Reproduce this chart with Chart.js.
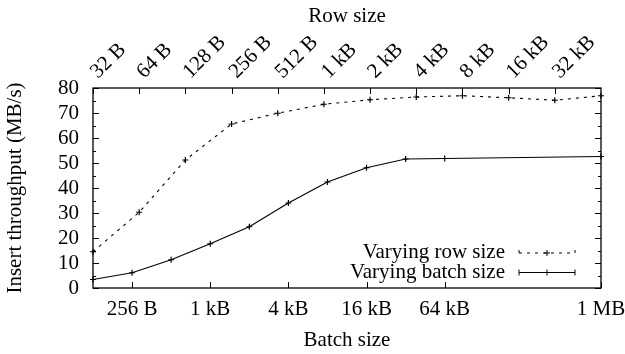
<!DOCTYPE html>
<html>
<head>
<meta charset="utf-8">
<title>Insert throughput</title>
<script src="https://cdn.jsdelivr.net/npm/chart.js@4.4.1/dist/chart.umd.min.js"></script>
<style>
  html, body { margin: 0; padding: 0; background: #fff; }
  #wrap { width: 625px; height: 354px; }
</style>
</head>
<body>
<div id="wrap"><canvas id="chart" width="625" height="354"></canvas></div>
<script>
// ── data ──
const rowSizes = [32, 64, 128, 256, 512, 1024, 2048, 4096, 8192, 16384, 32768, 65536];
const rowThroughput = [14.5, 30.3, 51.2, 65.6, 69.9, 73.5, 75.3, 76.4, 76.9, 76.1, 75.1, 76.9];

const batchSizes = [128, 256, 512, 1024, 2048, 4096, 8192, 16384, 32768, 65536, 1048576];
const batchThroughput = [3.4, 6.1, 11.3, 17.7, 24.5, 34.0, 42.4, 48.1, 51.6, 51.8, 52.6];

const rowTickSizes = [32, 64, 128, 256, 512, 1024, 2048, 4096, 8192, 16384, 32768];
const rowTickLabels = ['32 B', '64 B', '128 B', '256 B', '512 B', '1 kB', '2 kB', '4 kB', '8 kB', '16 kB', '32 kB'];

const batchTickSizes = [256, 1024, 4096, 16384, 65536, 1048576];
const batchTickLabels = ['256 B', '1 kB', '4 kB', '16 kB', '64 kB', '1 MB'];

const yTicks = [0, 10, 20, 30, 40, 50, 60, 70, 80];

const FONT = { family: "'Liberation Serif', 'Times New Roman', serif", size: 21 };
Chart.defaults.font = { ...FONT };
Chart.defaults.color = '#000';

// gnuplot-ish frame: inward ticks, mirrored y ticks, key inside bottom-right
const gnuplotFrame = {
    id: 'gnuplotFrame',
    afterDatasetsDraw(chart) {
        const { ctx, chartArea: a, scales } = chart;
        ctx.save();
        ctx.strokeStyle = '#000';
        ctx.lineWidth = 1;
        ctx.beginPath();
        for (let v = scales.y.min; v <= scales.y.max; v += 5) {
            const py = Math.round(scales.y.getPixelForValue(v)) + 0.5;
            const len = v % 10 === 0 ? 6 : 3;
            ctx.moveTo(a.left, py); ctx.lineTo(a.left + len, py);
            ctx.moveTo(a.right, py); ctx.lineTo(a.right - len, py);
        }
        scales.x.ticks.forEach(t => {
            const px = Math.round(scales.x.getPixelForValue(t.value)) + 0.5;
            ctx.moveTo(px, a.bottom); ctx.lineTo(px, a.bottom - 6);
        });
        scales.x2.ticks.forEach(t => {
            const px = Math.round(scales.x2.getPixelForValue(t.value)) + 0.5;
            ctx.moveTo(px, a.top); ctx.lineTo(px, a.top + 6);
        });
        ctx.stroke();

        ctx.lineWidth = 1.3;
        ctx.strokeRect(a.left, a.top, a.right - a.left, a.bottom - a.top);

        // key
        const sampleEnd = a.right - 26;
        const sampleStart = sampleEnd - 56;
        const rows = [a.bottom - 35, a.bottom - 15.5];
        ctx.font = `${FONT.size}px ${FONT.family}`;
        ctx.fillStyle = '#000';
        ctx.textAlign = 'right';
        ctx.textBaseline = 'alphabetic';
        chart.data.datasets.forEach((ds, i) => {
            const y = rows[i];
            ctx.fillText(ds.label, sampleStart - 14, y + 5);
            ctx.lineWidth = 1;
            ctx.setLineDash(ds.borderDash || []);
            ctx.beginPath();
            ctx.moveTo(sampleStart, y); ctx.lineTo(sampleEnd, y);
            ctx.moveTo(sampleStart, y - 3); ctx.lineTo(sampleStart, y + 3);
            ctx.moveTo(sampleEnd, y - 3); ctx.lineTo(sampleEnd, y + 3);
            ctx.stroke();
            ctx.setLineDash([]);
            const mid = (sampleStart + sampleEnd) / 2;
            ctx.beginPath();
            ctx.moveTo(mid - 3, y); ctx.lineTo(mid + 3, y);
            ctx.moveTo(mid, y - 3); ctx.lineTo(mid, y + 3);
            ctx.stroke();
        });
        ctx.restore();
    },
};

const labelFor = (sizes, labels) => value => {
    const i = sizes.indexOf(value);
    return i < 0 ? '' : labels[i];
};

// keep the plot box fixed: drop label overhang padding, layout padding decides
const fixBox = (prop, size) => s => {
    s[prop] = size;
    s.paddingLeft = s.paddingRight = s.paddingTop = s.paddingBottom = 0;
};

new Chart(document.getElementById('chart'), {
    type: 'line',
    data: {
        datasets: [
            {
                label: 'Varying row size',
                xAxisID: 'x2',
                data: rowSizes.map((s, i) => ({ x: s, y: rowThroughput[i] })),
                borderColor: '#000',
                backgroundColor: '#000',
                borderWidth: 1.1,
                borderDash: [3, 5],
                pointStyle: 'cross',
                pointRadius: 3,
                pointBorderWidth: 1.2,
                tension: 0,
                clip: false,
            },
            {
                label: 'Varying batch size',
                xAxisID: 'x',
                data: batchSizes.map((s, i) => ({ x: s, y: batchThroughput[i] })),
                borderColor: '#000',
                backgroundColor: '#000',
                borderWidth: 1.1,
                pointStyle: 'cross',
                pointRadius: 3,
                pointBorderWidth: 1.2,
                tension: 0,
                clip: false,
            },
        ],
    },
    options: {
        responsive: false,
        animation: false,
        devicePixelRatio: 1,
        layout: { padding: { left: 0, right: 24, top: 0, bottom: 0 } },
        plugins: {
            legend: { display: false },
            tooltip: { enabled: false },
        },
        scales: {
            x: {
                type: 'logarithmic',
                position: 'bottom',
                min: 128,
                max: 1048576,
                bounds: 'data',
                afterBuildTicks: s => { s.ticks = batchTickSizes.map(v => ({ value: v })); },
                afterFit: fixBox('height', 66),
                grid: { display: false, drawTicks: false },
                border: { display: false },
                ticks: {
                    autoSkip: false,
                    maxRotation: 0,
                    padding: 9,
                    callback: labelFor(batchTickSizes, batchTickLabels),
                },
                title: { display: true, text: 'Batch size', padding: { top: 0, bottom: 1 } },
            },
            x2: {
                type: 'logarithmic',
                position: 'top',
                min: 32,
                max: 65536,
                bounds: 'data',
                afterBuildTicks: s => { s.ticks = rowTickSizes.map(v => ({ value: v })); },
                afterFit: fixBox('height', 88),
                grid: { display: false, drawTicks: false },
                border: { display: false },
                ticks: {
                    autoSkip: false,
                    minRotation: 45,
                    maxRotation: 45,
                    padding: 4,
                    labelOffset: 19,
                    callback: labelFor(rowTickSizes, rowTickLabels),
                },
                title: { display: true, text: 'Row size', padding: { top: 4, bottom: 0 } },
            },
            y: {
                type: 'linear',
                min: 0,
                max: 80,
                afterBuildTicks: s => { s.ticks = yTicks.map(v => ({ value: v })); },
                afterFit: fixBox('width', 93),
                grid: { display: false, drawTicks: false },
                border: { display: false },
                ticks: { autoSkip: false, padding: 14 },
                title: { display: true, text: 'Insert throughput (MB/s)', padding: { top: 3, bottom: 0 } },
            },
        },
    },
    plugins: [gnuplotFrame],
});
</script>
</body>
</html>
